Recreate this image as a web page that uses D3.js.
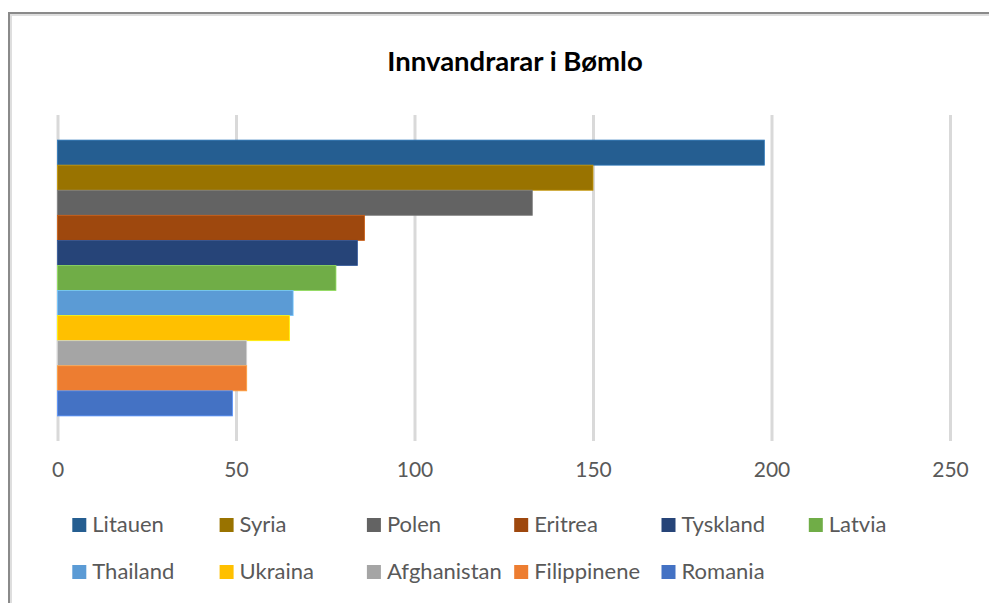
<!DOCTYPE html>
<html>
<head>
<meta charset="utf-8">
<script src="https://cdn.jsdelivr.net/npm/d3@7"></script>
<style>
  body { margin: 0; background: #fff; }
  text { font-family: Lato, "Open Sans", sans-serif; }
</style>
</head>
<body>
<div id="chart"></div>
<script>
// data, top bar first
var countries = ["Litauen", "Syria", "Polen", "Eritrea", "Tyskland", "Latvia",
                 "Thailand", "Ukraina", "Afghanistan", "Filippinene", "Romania"];
var values = [198, 150, 133, 86, 84, 78, 66, 65, 53, 53, 49];
var colors = ["#255e91", "#997300", "#636363", "#9e480e", "#264478", "#70ad47",
              "#5b9bd5", "#ffc000", "#a5a5a5", "#ed7d31", "#4472c4"];
var xTicks = [0, 50, 100, 150, 200, 250];

var svgWidth = 989;
var svgHeight = 603;

// plot area
var margin = { top: 115, left: 57.5, right: 39, bottom: 162 };
var plotWidth = svgWidth - margin.left - margin.right;
var plotHeight = svgHeight - margin.top - margin.bottom;

var svg = d3.select("#chart")
  .append("svg")
  .attr("width", svgWidth)
  .attr("height", svgHeight);

// chart frame (runs off the right and bottom edges)
svg.append("rect")
  .attr("x", 9).attr("y", 13)
  .attr("width", 1100).attr("height", 800)
  .attr("fill", "none")
  .attr("stroke", "#8a8a8a")
  .attr("stroke-width", 2);
svg.append("rect")
  .attr("x", 11).attr("y", 15)
  .attr("width", 1100).attr("height", 800)
  .attr("fill", "none")
  .attr("stroke", "#dedede")
  .attr("stroke-width", 2);

// title
svg.append("text")
  .attr("x", 515)
  .attr("y", 71)
  .attr("text-anchor", "middle")
  .attr("font-size", 27.5)
  .attr("font-weight", "bold")
  .attr("fill", "#000")
  .text("Innvandrarar i Bømlo");

var chartGroup = svg.append("g")
  .attr("transform", `translate(${margin.left}, ${margin.top})`);

var xScale = d3.scaleLinear()
  .domain([0, 250])
  .range([0, plotWidth]);

// one category holding 11 series: bars touch, outer gap of one bar
var yScale = d3.scaleBand()
  .domain(countries)
  .range([0, plotHeight])
  .paddingInner(0)
  .paddingOuter(1);

// gridlines + tick labels
var bottomAxis = d3.axisBottom(xScale)
  .tickValues(xTicks)
  .tickSize(plotHeight)
  .tickPadding(21);

var axisG = chartGroup.append("g").call(bottomAxis);
axisG.select(".domain").remove();
axisG.selectAll(".tick line")
  .attr("stroke", "#d9d9d9")
  .attr("stroke-width", 3);
axisG.selectAll(".tick text")
  .attr("fill", "#595959")
  .attr("font-size", 21)
  .attr("font-family", "Lato, sans-serif");

// bars
chartGroup.selectAll("rect.bar")
  .data(countries)
  .enter()
  .append("rect")
  .attr("class", "bar")
  .attr("x", xScale(0))
  .attr("y", d => yScale(d))
  .attr("width", (d, i) => xScale(values[i]) - xScale(0))
  .attr("height", yScale.bandwidth())
  .attr("fill", (d, i) => colors[i])
  .attr("stroke", (d, i) => d3.color(colors[i]).brighter(0.7))
  .attr("stroke-width", 0.8);

// legend, six per row
var legend = svg.append("g");
var items = legend.selectAll("g")
  .data(countries)
  .enter()
  .append("g")
  .attr("transform", (d, i) => `translate(${72.3 + (i % 6) * 147.3}, ${518 + Math.floor(i / 6) * 47})`);

items.append("rect")
  .attr("width", 14)
  .attr("height", 14)
  .attr("fill", (d, i) => colors[i]);

items.append("text")
  .attr("x", 20)
  .attr("y", 14)
  .attr("font-size", 22)
  .attr("fill", "#595959")
  .text(d => d);
</script>
</body>
</html>
